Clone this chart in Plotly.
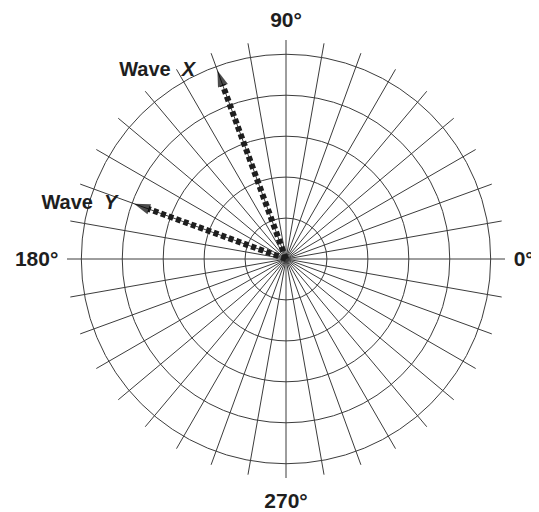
import plotly.graph_objects as go

# angular grid every 10 degrees, labels only on the four main directions
grid_angles = list(range(0, 360, 10))
label_angles = {0: "0°", 90: "90°", 180: "180°", 270: "270°"}
ring_values = [1, 2, 3, 4, 5]

# the two wave vectors (direction in degrees, magnitude in ring units)
wave_names = ["Wave\u00a0\u00a0<i>X</i>\u00a0\u00a0\u00a0\u00a0",
              "Wave\u00a0\u00a0<i>Y</i>\u00a0\u00a0\u00a0"]
wave_theta = [110, 160]
wave_r = [4.9, 3.95]

ink = "#1e1e1e"
grid = "#3c3c3c"

fig = go.Figure()

for name, th, r in zip(wave_names, wave_theta, wave_r):
    fig.add_trace(go.Scatterpolar(
        r=[0, r], theta=[th, th], mode="lines+markers",
        line=dict(color=ink, width=6, dash="5px,3px"),
        marker=dict(symbol=["circle", "arrow"], size=[0, 17],
                    angleref="previous", color="black",
                    line=dict(width=0)),
        showlegend=False, hoverinfo="skip"))
    fig.add_trace(go.Scatterpolar(
        r=[r], theta=[th], mode="text", text=[name],
        textposition="middle left",
        textfont=dict(family="Liberation Sans", size=20, color=ink, weight="bold"),
        showlegend=False, hoverinfo="skip"))

# the page body adds an 8px margin, so the figure is 8px smaller than the window
fig.update_layout(
    width=531, height=504,
    margin=dict(l=59, r=34, t=32, b=34),
    paper_bgcolor="white",
    showlegend=False,
    polar=dict(
        bgcolor="white",
        radialaxis=dict(range=[0, 5.35], tickvals=ring_values,
                        showticklabels=False, ticks="", showline=False,
                        gridcolor=grid, gridwidth=1.2),
        angularaxis=dict(tickvals=grid_angles,
                         ticktext=[label_angles.get(a, "") for a in grid_angles],
                         direction="counterclockwise", rotation=0,
                         showline=False, ticks="outside", ticklen=4,
                         tickcolor="rgba(0,0,0,0)",
                         gridcolor=grid, gridwidth=1.2,
                         tickfont=dict(family="Liberation Sans", size=21,
                                       color=ink, weight="bold")),
    ),
)

fig.write_html("out.html")
